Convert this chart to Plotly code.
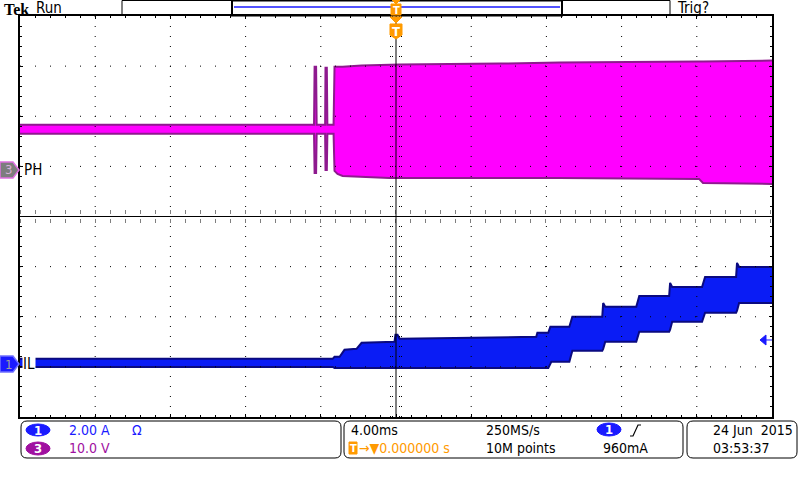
"""Tek scope capture: switch node (CH3) and inductor current (CH1) at start-up."""

import plotly.graph_objects as go

# Acquisition settings shown on the readout
TIME_PER_DIV_MS = 4.0
CH1_A_PER_DIV = 2.0
CH3_V_PER_DIV = 10.0
CH1_OFFSET_DIV = -2.94   # IL ground marker
CH3_OFFSET_DIV = 0.93    # PH ground marker

# CH3 "PH" envelope (max / min of the switching waveform), time in ms
PH_TIME_MS = [-20.0, -4.44, -4.36, -4.33, -4.25, -4.22, -3.77, -3.75, -3.68, -3.65,
              -3.32, -3.27, -3.11, -2.84, -1.83, -0.35, 0.19, 5.50, 8.69, 16.12,
              16.33, 20.0]
PH_TOP_V = [9.0, 9.0, 9.0, 20.6, 20.6, 9.0, 9.0, 20.4, 20.4, 9.0,
            9.0, 20.6, 20.6, 20.6, 20.8, 21.0, 21.0, 21.2, 21.4, 21.6,
            21.6, 21.8]
PH_BOTTOM_V = [7.2, 7.2, 7.2, -0.6, -0.6, 7.2, 7.2, 0.0, 0.0, 7.2,
               7.2, -0.2, -0.8, -1.2, -1.4, -1.6, -1.6, -1.6, -1.6, -1.8,
               -2.6, -2.8]

# CH1 "IL" envelope (ripple band of the inductor current), time in ms
IL_TIME_MS = [-20.0, -3.37, -3.27, -3.00, -2.74, -2.10, -1.83, -0.08, -0.03, 0.08,
              0.19, 7.46, 7.52, 8.10, 8.21, 8.26, 9.22, 9.38, 10.97, 11.02,
              11.13, 12.78, 12.94, 14.53, 14.58, 14.69, 16.28, 16.44, 18.09, 18.14,
              18.25, 20.0]
IL_TOP_A = [0.20, 0.20, 0.28, 0.28, 0.56, 0.60, 0.84, 0.88, 1.16, 1.16,
            1.00, 1.08, 1.24, 1.24, 1.48, 1.48, 1.48, 1.88, 1.88, 2.43,
            2.28, 2.28, 2.71, 2.71, 3.23, 3.07, 3.07, 3.47, 3.47, 4.03,
            3.87, 3.87]
IL_BOTTOM_A = [-0.12, -0.12, -0.16, -0.16, -0.16, -0.16, -0.16, -0.16, -0.16, -0.16,
               -0.16, -0.16, -0.16, -0.16, 0.0, 0.08, 0.08, 0.52, 0.52, 0.60,
               0.88, 0.88, 1.28, 1.28, 1.36, 1.68, 1.68, 2.04, 2.04, 2.12,
               2.43, 2.43]

# Readout texts
CH1_SCALE_TEXT = "2.00 A"
CH3_SCALE_TEXT = "10.0 V"
TIMEBASE_TEXT = "4.00ms"
TRIG_POS_TEXT = "→▼0.000000 s"
SAMPLE_RATE_TEXT = "250MS/s"
RECORD_TEXT = "10M points"
TRIG_LEVEL_TEXT = "960mA"
DATE_TEXT = "24 Jun\u00a0 2015"
TIME_TEXT = "03:53:37"

COLOR_PH = "#ff00ff"
COLOR_PH_EDGE = "#8e1a8e"
COLOR_IL = "#0a1cf5"
COLOR_IL_EDGE = "#0a0a80"
COLOR_CH1 = "#1a1aff"
COLOR_CH3 = "#a010a0"
COLOR_TRIG = "#ff9a00"

FONT = "Liberation Sans Narrow, DejaVu Sans Condensed, sans-serif"
FONT_SIZE = 14

# screen geometry of the graticule (pixels)
PLOT_L, PLOT_R, PLOT_T, PLOT_B = 20, 772, 16, 417


def px(x):
    return (x - PLOT_L) / (PLOT_R - PLOT_L)


def py(y):
    return (PLOT_B - y) / (PLOT_B - PLOT_T)


def to_div(values, per_div, offset):
    return [offset + v / per_div for v in values]


def poly_path(points, close=True):
    """SVG path in paper coords from pixel points."""
    parts = [f"{'M' if i == 0 else 'L'}{px(x):.5f},{py(y):.5f}" for i, (x, y) in enumerate(points)]
    return " ".join(parts) + (" Z" if close else "")


def add_band(fig, t, top, bottom, fill, edge):
    fig.add_trace(go.Scatter(x=t + t[::-1], y=top + bottom[::-1], mode="lines",
                             fill="toself", fillcolor=fill, line=dict(width=0),
                             hoverinfo="skip"))
    for vals in (top, bottom):
        fig.add_trace(go.Scatter(x=t, y=vals, mode="lines",
                                 line=dict(color=edge, width=2), hoverinfo="skip"))


def add_text(fig, text, x, y, color="black", size=FONT_SIZE, anchor="left", **kw):
    fig.add_annotation(text=text, x=px(x), y=py(y), xref="paper", yref="paper",
                       xanchor=anchor, yanchor=kw.pop("yanchor", "middle"), showarrow=False,
                       font=dict(family=kw.pop("family", FONT), size=size, color=color), **kw)


def add_path(fig, points, fill=None, color="black", width=1, close=True):
    fig.add_shape(type="path", path=poly_path(points, close), xref="paper", yref="paper",
                  fillcolor=fill if fill else "rgba(0,0,0,0)",
                  line=dict(color=color, width=width), layer="above")


def add_rect(fig, x0, y0, x1, y1, fill=None, color="black", width=1, kind="rect"):
    fig.add_shape(type=kind, x0=px(x0), x1=px(x1), y0=py(y0), y1=py(y1),
                  xref="paper", yref="paper", fillcolor=fill if fill else "rgba(0,0,0,0)",
                  line=dict(color=color, width=width), layer="above")


def rounded_box(fig, x0, y0, x1, y1, r=6):
    path = (f"M{px(x0 + r)},{py(y0)} L{px(x1 - r)},{py(y0)} Q{px(x1)},{py(y0)} {px(x1)},{py(y0 + r)} "
            f"L{px(x1)},{py(y1 - r)} Q{px(x1)},{py(y1)} {px(x1 - r)},{py(y1)} "
            f"L{px(x0 + r)},{py(y1)} Q{px(x0)},{py(y1)} {px(x0)},{py(y1 - r)} "
            f"L{px(x0)},{py(y0 + r)} Q{px(x0)},{py(y0)} {px(x0 + r)},{py(y0)} Z")
    fig.add_shape(type="path", path=path, xref="paper", yref="paper",
                  line=dict(color="black", width=1), layer="above")


def add_graticule(fig):
    half_x = 5 * TIME_PER_DIV_MS
    ms_per_px = 2 * half_x / (PLOT_R - PLOT_L)
    div_per_px = 8 / (PLOT_B - PLOT_T)
    for i in (-4, -3, -2, -1, 1, 2, 3, 4):
        fig.add_shape(type="line", x0=i * TIME_PER_DIV_MS, x1=i * TIME_PER_DIV_MS, y0=4, y1=-4,
                      line=dict(color="black", width=1, dash="1px,9px"), layer="above")
    for j in (-3, -2, -1, 1, 2, 3):
        fig.add_shape(type="line", x0=-half_x, x1=half_x, y0=j, y1=j,
                      line=dict(color="black", width=1, dash="1px,14px"), layer="above")
    # centre crosshair with its minor tick marks
    fig.add_shape(type="line", x0=0, x1=0, y0=4, y1=-4, line=dict(color="black", width=1), layer="above")
    fig.add_shape(type="line", x0=-half_x, x1=half_x, y0=0, y1=0, line=dict(color="black", width=1), layer="above")
    for off in (-5.5, -3.5, 3.5, 5.5):
        fig.add_shape(type="line", x0=off * ms_per_px, x1=off * ms_per_px, y0=4, y1=-4,
                      line=dict(color="black", width=1, dash="1px,9px"), layer="above")
        fig.add_shape(type="line", x0=-half_x, x1=half_x, y0=off * div_per_px, y1=off * div_per_px,
                      line=dict(color="black", width=1, dash="1px,14px"), layer="above")


fig = go.Figure()

add_band(fig, PH_TIME_MS, to_div(PH_TOP_V, CH3_V_PER_DIV, CH3_OFFSET_DIV),
         to_div(PH_BOTTOM_V, CH3_V_PER_DIV, CH3_OFFSET_DIV), COLOR_PH, COLOR_PH_EDGE)
add_band(fig, IL_TIME_MS, to_div(IL_TOP_A, CH1_A_PER_DIV, CH1_OFFSET_DIV),
         to_div(IL_BOTTOM_A, CH1_A_PER_DIV, CH1_OFFSET_DIV), COLOR_IL, COLOR_IL_EDGE)

add_graticule(fig)

# top status bar
add_text(fig, "<b>Tek</b>", 16, 0, size=16, anchor="center", yanchor="top", borderpad=0,
         family="Liberation Serif, DejaVu Serif, serif")
add_text(fig, "Run", 34, 8, size=15)
add_text(fig, "Trig?", 675, 8, size=15)
add_rect(fig, 122, 0.5, 670, 15.5)
add_rect(fig, 232, 0.5, 562, 15.5, width=2)
fig.add_shape(type="line", x0=px(234), x1=px(560), y0=py(7), y1=py(7), xref="paper", yref="paper",
              line=dict(color=COLOR_CH1, width=1.5), layer="above")

# trigger position markers
add_path(fig, [(392, 0), (400, 0), (396, 4)], fill=COLOR_TRIG, color=COLOR_TRIG)
add_rect(fig, 391, 4, 401, 15, fill=COLOR_TRIG, color=COLOR_TRIG)
add_text(fig, "<b>T</b>", 396, 10, color="white", size=11, anchor="center")
add_path(fig, [(390, 17), (402, 17), (396, 23)], fill=COLOR_TRIG, color=COLOR_TRIG)
add_path(fig, [(390, 24), (402, 24), (402, 35), (396, 39), (390, 35)], fill=COLOR_TRIG, color=COLOR_TRIG)
add_text(fig, "<b>T</b>", 396, 31, color="white", size=13, anchor="center")

# channel ground markers and labels
add_path(fig, [(0, 162), (13, 162), (19, 170), (13, 178), (0, 178)], fill="#7d7d7d", color="#e070e0", width=1.5)
add_text(fig, "3", 8, 170, color="#d8b0d8", size=13, anchor="center")
add_text(fig, "PH", 22, 170, size=15)
add_path(fig, [(0, 356), (13, 356), (19, 364), (13, 372), (0, 372)], fill=COLOR_CH1, color="#7070ff", width=1.5)
add_text(fig, "1", 8, 364, color="#a0a0a0", size=13, anchor="center")
add_text(fig, "IL", 22, 364, size=15, bgcolor="white", borderpad=0)

# trigger level arrow on the right edge
add_path(fig, [(760, 340), (766, 335), (766, 345)], fill=COLOR_CH1, color=COLOR_CH1)
add_path(fig, [(766, 340), (772, 340)], color=COLOR_CH1, close=False)

# bottom readout boxes
rounded_box(fig, 21, 421, 341, 458)
rounded_box(fig, 344, 421, 683, 458)
rounded_box(fig, 687, 421, 797, 458)

add_rect(fig, 26, 424, 50, 436, fill=COLOR_CH1, color=COLOR_CH1, kind="circle")
add_text(fig, "<b>1</b>", 38, 430, color="white", size=13, anchor="center")
add_rect(fig, 26, 442, 50, 455, fill=COLOR_CH3, color=COLOR_CH3, kind="circle")
add_text(fig, "<b>3</b>", 38, 448.5, color="white", size=13, anchor="center")
add_text(fig, CH1_SCALE_TEXT, 67, 430, color=COLOR_CH1)
add_text(fig, "Ω", 130, 430, color=COLOR_CH1)
add_text(fig, CH3_SCALE_TEXT, 67, 448, color=COLOR_CH3)

add_text(fig, TIMEBASE_TEXT, 349, 430)
add_rect(fig, 349, 442, 357, 454, fill=COLOR_TRIG, color=COLOR_TRIG)
add_text(fig, "<b>T</b>", 353, 448, color="white", size=11, anchor="center")
add_text(fig, TRIG_POS_TEXT, 357, 448, color=COLOR_TRIG)
add_text(fig, SAMPLE_RATE_TEXT, 484, 430)
add_text(fig, RECORD_TEXT, 484, 448)
add_rect(fig, 597, 423, 621, 436, fill=COLOR_CH1, color=COLOR_CH1, kind="circle")
add_text(fig, "<b>1</b>", 609, 429.5, color="white", size=13, anchor="center")
add_path(fig, [(630, 436), (633, 436), (638, 425), (641, 425)], color="black", width=1.2, close=False)
add_text(fig, TRIG_LEVEL_TEXT, 601, 448)
add_text(fig, DATE_TEXT, 711, 430)
add_text(fig, TIME_TEXT, 711, 448)

axis_style = dict(showgrid=False, zeroline=False, showticklabels=False, showline=True,
                  linecolor="black", linewidth=2, mirror="allticks", ticks="inside",
                  ticklen=3, tickcolor="black", layer="above traces", fixedrange=True)

fig.update_layout(
    width=800,
    height=480,
    margin=dict(l=PLOT_L, r=800 - PLOT_R, t=PLOT_T, b=480 - PLOT_B),
    paper_bgcolor="white",
    plot_bgcolor="white",
    showlegend=False,
    xaxis=dict(range=[-5 * TIME_PER_DIV_MS, 5 * TIME_PER_DIV_MS], tick0=0, dtick=TIME_PER_DIV_MS,
               minor=dict(ticks="inside", ticklen=2, dtick=TIME_PER_DIV_MS / 5, tickcolor="black"),
               **axis_style),
    yaxis=dict(range=[-4, 4], tick0=0, dtick=1,
               minor=dict(ticks="inside", ticklen=2, dtick=0.2, tickcolor="black"),
               **axis_style),
)

# the page body has a default 8px margin; drop it so the figure sits at the window origin
fig.write_html("out.html", config={"displayModeBar": False},
               post_script="document.body.style.margin='0';")
